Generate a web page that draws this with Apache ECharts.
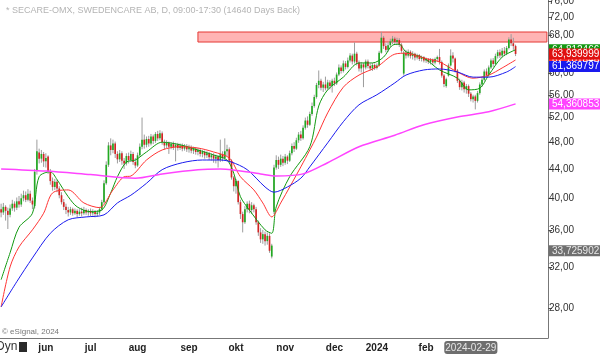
<!DOCTYPE html>
<html>
<head>
<meta charset="utf-8">
<title>SECARE-OMX</title>
<script src="https://cdn.jsdelivr.net/npm/echarts@6/dist/echarts.min.js"></script>
<style>
  html, body { margin: 0; padding: 0; background: #fff; }
  #chart { width: 600px; height: 354px; }
</style>
</head>
<body>
<div id="chart"></div>
<script>
// daily candles 2023-05-03 .. 2024-03-28, each [open, close, low, high]
const candles = [
  [38.6, 38.2, 37.6, 39.3], [38.2, 38.9, 37.9, 39.4], [38.9, 38.4, 37.2, 39.1], [38.4, 37.9, 36.2, 38.8],
  [37.9, 38.7, 37.6, 39.2], [38.7, 39.3, 38.4, 39.8], [39.3, 38.8, 38.3, 39.6], [38.8, 39.6, 38.5, 40.1],
  [39.6, 39.2, 38.8, 40.3], [39.2, 40.0, 38.9, 40.6], [40.0, 40.4, 39.6, 41.0], [40.4, 39.8, 39.5, 40.9],
  [39.8, 40.6, 39.6, 41.2], [40.6, 39.7, 39.4, 41.0], [39.7, 39.2, 38.6, 40.1], [39.0, 43.6, 38.7, 44.0],
  [43.8, 46.6, 43.2, 48.4], [46.4, 45.5, 44.8, 47.0], [45.5, 46.2, 44.9, 46.8], [46.2, 45.1, 44.3, 46.5],
  [45.1, 45.6, 44.2, 46.3], [45.8, 43.6, 43.3, 46.0], [43.6, 42.3, 41.8, 44.0], [42.3, 41.5, 41.0, 42.8],
  [41.5, 42.2, 41.1, 42.6], [42.2, 41.3, 40.8, 42.5], [41.3, 40.4, 40.0, 41.6], [40.4, 39.5, 39.2, 40.8],
  [39.5, 38.9, 38.5, 39.9], [38.9, 38.5, 38.0, 39.3], [38.5, 38.2, 37.7, 38.9], [38.2, 38.6, 37.9, 38.9],
  [38.6, 38.1, 37.8, 38.8], [38.1, 38.4, 37.9, 38.7], [38.4, 38.0, 37.6, 38.6], [38.0, 38.3, 37.8, 38.6],
  [38.3, 38.1, 37.7, 38.8], [38.1, 38.5, 37.9, 38.9], [38.5, 38.2, 37.9, 38.7], [38.2, 38.4, 37.8, 38.6],
  [38.4, 38.1, 37.7, 38.7], [38.1, 38.3, 37.8, 38.6], [38.3, 38.0, 37.6, 38.5], [38.0, 38.2, 37.7, 38.5],
  [38.2, 38.6, 37.9, 38.9], [38.6, 39.5, 38.4, 39.8], [39.5, 42.0, 39.3, 42.4], [42.0, 44.6, 41.8, 45.1],
  [44.6, 47.5, 44.3, 48.0], [47.5, 46.8, 46.0, 48.6], [46.8, 47.8, 46.3, 48.4], [47.8, 46.2, 45.6, 48.1],
  [46.2, 45.4, 44.8, 46.6], [45.4, 46.3, 45.0, 46.8], [46.3, 45.2, 44.6, 46.6], [45.2, 44.8, 44.0, 45.6],
  [44.8, 45.9, 44.5, 46.3], [45.9, 45.3, 44.8, 46.4], [45.3, 46.2, 45.0, 46.7], [46.2, 45.0, 44.6, 46.5],
  [45.0, 44.5, 44.1, 45.6], [44.5, 46.0, 44.3, 46.4], [46.0, 47.3, 45.8, 47.8], [47.3, 48.4, 46.9, 52.0],
  [48.4, 47.6, 47.0, 49.2], [47.6, 48.5, 47.2, 48.9], [48.5, 47.8, 47.3, 49.0], [47.8, 48.9, 47.5, 49.3],
  [48.9, 48.2, 47.7, 49.2], [48.2, 49.3, 47.9, 49.6], [49.3, 48.6, 48.2, 49.8], [48.6, 49.4, 48.3, 49.9],
  [49.4, 48.0, 47.6, 49.7], [48.0, 47.5, 46.9, 48.4], [47.5, 47.9, 47.1, 48.3], [47.9, 47.3, 46.2, 48.1],
  [47.3, 47.7, 46.9, 48.0], [47.7, 47.2, 46.8, 48.1], [47.2, 47.6, 45.1, 47.9], [47.6, 47.1, 46.7, 47.9],
  [47.1, 47.5, 46.8, 47.8], [47.5, 47.0, 46.6, 47.8], [47.0, 47.4, 46.7, 47.7], [47.4, 46.9, 46.5, 47.7],
  [46.9, 47.2, 46.4, 47.6], [47.2, 46.7, 46.3, 47.5], [46.7, 47.0, 46.2, 47.3], [47.0, 46.5, 46.1, 47.2],
  [46.5, 46.8, 46.0, 47.1], [46.8, 46.2, 45.8, 47.0], [46.2, 46.5, 45.7, 46.8], [46.5, 46.0, 45.5, 46.7],
  [46.0, 46.3, 45.6, 46.6], [46.3, 45.7, 45.3, 46.5], [45.7, 46.0, 45.2, 46.3], [46.0, 45.5, 44.9, 46.3],
  [45.5, 45.8, 44.8, 46.1], [45.8, 45.3, 44.2, 46.0], [45.3, 46.2, 45.0, 48.4], [46.2, 45.6, 45.1, 46.6],
  [45.6, 46.6, 45.3, 48.6], [46.6, 46.9, 45.9, 47.6], [46.9, 45.2, 44.8, 47.2], [45.2, 42.8, 42.5, 45.4],
  [42.8, 41.6, 40.9, 43.0], [41.6, 42.3, 40.6, 42.6], [42.3, 39.5, 39.2, 42.4], [39.5, 38.0, 37.4, 39.8],
  [38.0, 37.0, 35.8, 38.3], [37.0, 38.6, 36.8, 39.0], [38.6, 39.3, 38.2, 39.6], [39.3, 38.5, 38.1, 39.7],
  [38.5, 39.1, 38.0, 39.5], [39.1, 38.6, 38.2, 39.3], [38.6, 37.0, 36.7, 38.9], [37.0, 35.8, 35.4, 37.2],
  [35.8, 35.0, 34.6, 36.3], [35.0, 35.6, 34.5, 36.1], [35.6, 34.8, 34.3, 35.9], [34.8, 35.4, 34.4, 35.8],
  [35.4, 33.725902, 33.5, 35.7], [33.1, 34.3, 32.9, 34.5], [38.3, 44.2, 38.0, 44.6], [44.2, 45.3, 43.9, 46.0],
  [45.3, 44.6, 44.0, 45.8], [44.6, 45.5, 44.3, 46.1], [45.5, 44.9, 44.4, 45.9], [44.9, 45.8, 44.6, 46.2],
  [45.8, 45.2, 44.7, 46.0], [45.2, 46.3, 45.0, 46.7], [46.3, 47.4, 46.0, 47.8], [47.4, 47.0, 46.5, 48.0],
  [47.0, 48.3, 46.8, 48.7], [48.3, 49.2, 47.9, 49.6], [49.2, 48.6, 48.2, 49.8], [48.6, 50.3, 48.4, 50.7],
  [50.3, 51.5, 50.0, 52.0], [51.5, 50.8, 50.3, 52.2], [50.8, 52.6, 50.6, 53.0], [52.6, 54.0, 52.3, 54.6],
  [54.0, 55.6, 53.7, 56.0], [55.6, 57.8, 55.3, 58.2], [57.8, 58.6, 57.2, 60.6], [58.6, 57.3, 56.8, 59.0],
  [57.3, 57.9, 56.5, 58.4], [57.9, 57.2, 56.8, 59.4], [57.2, 58.3, 56.9, 58.8], [58.3, 57.6, 57.0, 58.7],
  [57.6, 58.6, 56.4, 59.0], [58.6, 58.1, 57.6, 59.2], [58.1, 59.8, 57.8, 60.2], [59.8, 61.2, 59.5, 61.8],
  [61.2, 60.5, 60.0, 61.6], [60.5, 62.0, 60.2, 62.6], [62.0, 61.3, 60.8, 62.5], [61.3, 62.6, 61.0, 63.2],
  [62.6, 63.6, 62.2, 64.1], [63.6, 62.4, 61.8, 64.0], [62.4, 64.0, 62.0, 66.4], [64.0, 62.2, 61.6, 64.4],
  [62.2, 61.0, 60.4, 62.6], [61.0, 61.8, 60.2, 62.3], [61.8, 61.2, 57.4, 62.1], [61.2, 62.4, 60.8, 62.8],
  [62.4, 61.5, 61.0, 62.8], [61.5, 61.0, 60.6, 62.0], [61.0, 61.7, 60.5, 62.1], [61.7, 61.1, 60.7, 62.0],
  [61.1, 61.6, 60.8, 62.0], [61.6, 64.2, 61.4, 64.6], [64.2, 67.4, 64.0, 68.7], [67.4, 65.6, 65.0, 67.8],
  [65.6, 64.8, 64.3, 66.2], [64.8, 65.8, 64.4, 66.4], [65.8, 66.6, 65.3, 67.2], [66.6, 67.2, 66.0, 67.8],
  [67.2, 66.5, 66.0, 67.6], [66.5, 66.9, 65.8, 67.4], [66.9, 65.9, 65.4, 67.3], [65.9, 64.6, 64.2, 66.2],
  [60.0, 64.2, 59.6, 64.6], [64.2, 63.6, 63.0, 64.8], [63.6, 64.4, 63.2, 64.9], [64.4, 63.5, 63.0, 64.7],
  [63.5, 64.0, 62.8, 64.5], [64.0, 63.2, 62.6, 64.2], [63.2, 63.7, 62.8, 64.0], [63.7, 62.9, 62.5, 63.9],
  [62.9, 63.3, 62.4, 63.6], [63.3, 62.6, 62.2, 63.5], [62.6, 62.9, 62.1, 63.2], [62.9, 62.3, 61.9, 63.1],
  [62.3, 62.8, 61.8, 63.1], [62.8, 62.2, 61.7, 63.0], [62.2, 62.9, 61.8, 63.2], [62.9, 63.3, 62.4, 63.6],
  [63.3, 62.3, 61.8, 65.0], [62.3, 59.6, 59.2, 62.6], [59.6, 58.0, 57.4, 59.9], [57.6, 58.9, 57.3, 59.2],
  [59.6, 61.6, 59.4, 62.0], [61.6, 63.6, 61.4, 64.9], [63.6, 63.0, 62.2, 64.3], [63.0, 60.6, 60.2, 63.2],
  [60.6, 58.6, 58.2, 60.9], [58.6, 57.4, 56.9, 59.0], [57.4, 58.3, 56.8, 58.8], [58.3, 57.0, 56.4, 58.6],
  [57.0, 57.6, 56.2, 58.0], [57.6, 56.2, 55.6, 57.9], [56.2, 55.2, 54.8, 56.5], [55.2, 55.7, 54.6, 56.0],
  [55.7, 54.9, 53.4, 56.0], [54.9, 56.3, 54.6, 56.7], [56.3, 57.9, 56.0, 58.3], [57.9, 58.8, 57.5, 59.2],
  [58.8, 60.4, 58.5, 60.8], [60.4, 59.7, 59.2, 61.0], [59.7, 61.2, 59.4, 61.6], [61.2, 62.6, 60.9, 63.0],
  [62.6, 61.9, 61.3, 63.1], [61.9, 63.5, 61.6, 64.0], [63.5, 64.3, 63.0, 64.8], [64.3, 63.6, 63.1, 64.9],
  [63.6, 64.6, 63.3, 65.2], [64.6, 64.0, 63.5, 65.4], [64.0, 65.2, 63.7, 65.6], [65.2, 67.0, 64.9, 67.5],
  [67.0, 66.2, 65.6, 68.2], [66.2, 65.6, 64.8, 67.4], [65.6, 63.939999, 63.5, 65.9]
];

// moving averages as [candle index, value]
const maGreen = [[0, 30.7], [4, 33.5], [8, 36.4], [14, 38.1], [17, 42.9], [22, 43.6], [25, 42.5], [30, 40.2],
  [34, 38.9], [40, 38.3], [45, 38.5], [49, 40.7], [52, 42.9], [56, 45.0], [60, 45.3], [65, 46.5], [72, 48.0],
  [80, 47.6], [88, 46.8], [95, 46.05], [101, 45.3], [104, 43.4], [107, 40.2], [111, 38.5], [118, 36.1],
  [121, 35.7], [123, 38.9], [129, 42.9], [138, 47.3], [142, 54.0], [146, 56.9], [153, 59.3], [160, 62.1],
  [166, 62.1], [171, 63.3], [175, 65.8], [178, 66.0], [181, 64.4], [189, 63.1], [196, 60.7], [204, 59.1],
  [209, 56.9], [214, 57.2], [218, 59.7], [224, 63.3], [230, 64.812466]];
const maRed = [[0, 28.1], [4, 32.0], [8, 34.15], [14, 36.1], [19, 38.1], [23, 40.7], [30, 41.1], [37, 39.4],
  [44, 38.8], [50, 41.1], [55, 42.9], [58, 43.0], [65, 45.3], [72, 46.8], [80, 47.3], [88, 47.1], [95, 46.5],
  [102, 45.6], [107, 42.9], [113, 41.1], [117, 39.4], [121, 37.65], [125, 39.4], [134, 44.3], [138, 46.8],
  [141, 48.8], [146, 52.8], [153, 57.4], [160, 59.7], [168, 61.3], [176, 63.9], [181, 64.1], [189, 63.1],
  [196, 62.3], [204, 60.3], [211, 59.1], [218, 59.7], [224, 61.1], [230, 62.701846]];
const maBlue = [[0, 28.1], [7, 30.5], [14, 32.95], [22, 35.7], [30, 37.3], [38, 37.65], [46, 37.9], [52, 39.4],
  [58, 40.4], [65, 42.0], [72, 43.9], [81, 44.9], [90, 45.3], [98, 45.3], [103, 45.0], [110, 43.9], [118, 41.5],
  [122, 40.8], [128, 41.5], [134, 42.7], [138, 44.3], [146, 47.9], [153, 51.3], [160, 54.2], [168, 56.0],
  [176, 58.2], [181, 59.7], [189, 60.7], [196, 60.9], [204, 60.3], [211, 59.3], [218, 59.3], [226, 60.3],
  [230, 61.369797]];
const maMagenta = [[0, 44.0], [20, 43.7], [40, 43.2], [60, 42.7], [72, 43.3], [88, 43.9], [98, 44.0],
  [103, 43.9], [116, 43.3], [123, 43.0], [135, 43.3], [146, 44.9], [160, 47.3], [176, 49.1], [189, 50.8],
  [204, 52.1], [218, 53.0], [230, 54.360853]];

const lowTag = 33.725902;
const zoneLow = 66.47, zoneHigh = 68.67, zoneStart = "2023-09-07";
const cursorDate = "2024-02-29";
const yTicks = [28, 32, 36, 40, 44, 48, 52, 56, 60, 68, 72, 76];
const monthNames = ["2024", "feb", "mar", "apr", "maj", "jun", "jul", "aug", "sep", "okt", "nov", "dec"];
const holidays = ["2023-05-18", "2023-06-06", "2023-06-23", "2023-12-25", "2023-12-26", "2024-01-01", "2024-03-29", "2024-04-01"];
const blankSlots = 14;

// trading days on the category axis
const dates = [];
const day = new Date(Date.UTC(2023, 4, 3));
while (dates.length < candles.length + blankSlots) {
  const s = day.toISOString().slice(0, 10);
  const wd = day.getUTCDay();
  if (wd !== 0 && wd !== 6 && holidays.indexOf(s) < 0) dates.push(s);
  day.setUTCDate(day.getUTCDate() + 1);
}
const monthStart = i => i > 0 && i < candles.length && dates[i].slice(5, 7) !== dates[i - 1].slice(5, 7);

const fmt = (v, d) => v.toFixed(d).replace(".", ",");

function renderCandle(params, api) {
  const i = api.value(0);
  const o = api.coord([i, api.value(1)]);
  const c = api.coord([i, api.value(2)]);
  const l = api.coord([i, api.value(3)]);
  const h = api.coord([i, api.value(4)]);
  const band = api.coord([i + 1, api.value(1)])[0] - o[0];
  const w = Math.max(1, band * 0.75);
  const up = api.value(2) >= api.value(1);
  return {
    type: "group",
    children: [
      { type: "line", shape: { x1: o[0], y1: h[1], x2: o[0], y2: l[1] }, style: { stroke: "#9c9c9c", lineWidth: 1 } },
      {
        type: "rect",
        shape: { x: o[0] - w / 2, y: Math.min(o[1], c[1]), width: w, height: Math.max(1, Math.abs(o[1] - c[1])) },
        style: { fill: up ? "#22aa22" : "#d42424" }
      }
    ]
  };
}

// price tag on the right axis
function tag(value, bg, fg, z) {
  return {
    symbol: "none",
    silent: true,
    precision: 6,
    z: z,
    lineStyle: { color: "rgba(0,0,0,0)", width: 0 },
    label: {
      show: true, position: "end", distance: 1, formatter: p => fmt(p.value, 6),
      backgroundColor: bg, color: fg, fontSize: 10, padding: [1, 1, 0, 3]
    },
    data: [{ yAxis: value }]
  };
}

function maSeries(name, data, color, width, z) {
  return {
    name: name, type: "line", data: data, symbol: "none", smooth: 0.3, z: 3,
    lineStyle: { color: color, width: width },
    markLine: tag(data[data.length - 1][1], color, "#fff", z)
  };
}

const chart = echarts.init(document.getElementById("chart"));
chart.setOption({
  animation: false,
  textStyle: { fontFamily: "Liberation Sans, Arial, sans-serif" },
  title: {
    text: "* SECARE-OMX, SWEDENCARE AB, D, 09:00-17:30 (14640 Days Back)",
    left: 1, top: 1,
    textStyle: { fontSize: 9, fontWeight: "normal", color: "#b4b4b4" }
  },
  grid: { left: 0, right: 52, top: 0, bottom: 16, outerBoundsMode: "none" },
  xAxis: {
    type: "category",
    data: dates,
    boundaryGap: true,
    axisLine: { lineStyle: { color: "#777" } },
    axisTick: { interval: monthStart, alignWithLabel: true, length: 3, lineStyle: { color: "#777" } },
    axisLabel: {
      interval: monthStart, margin: 5, fontSize: 10, fontWeight: "bold", color: "#222",
      formatter: v => monthNames[+v.slice(5, 7) - 1]
    },
    splitLine: { show: false },
    axisPointer: {
      show: true, status: "show", value: dates.indexOf(cursorDate), triggerTooltip: false,
      lineStyle: { color: "transparent", width: 0 },
      label: { show: true, backgroundColor: "#6e6e6e", color: "#e6e6e6", fontSize: 10, padding: [2, 1, 1, 1], margin: 3 },
      handle: { show: false }
    }
  },
  yAxis: {
    type: "log",
    logBase: 10,
    position: "right",
    min: 25.4,
    max: 76.2,
    axisLine: { show: true, lineStyle: { color: "#777" } },
    axisTick: { show: true, customValues: yTicks, length: 4, lineStyle: { color: "#555" } },
    axisLabel: { customValues: yTicks, margin: 1, fontSize: 10, color: "#333", formatter: v => fmt(v, 2) },
    splitLine: { show: false }
  },
  series: [
    {
      name: "SECARE", type: "custom", z: 2,
      renderItem: renderCandle,
      encode: { x: 0, y: [1, 2, 3, 4] },
      data: candles.map((c, i) => [i, c[0], c[1], c[2], c[3]]),
      markArea: {
        silent: true,
        itemStyle: { color: "rgba(255,140,140,0.65)", borderColor: "#e53935", borderWidth: 1 },
        data: [[{ xAxis: zoneStart, yAxis: zoneHigh }, { xAxis: dates[dates.length - 1], yAxis: zoneLow }]]
      },
      markLine: {
        symbol: "none", silent: true, z: 6, precision: 6, lineStyle: { color: "rgba(0,0,0,0)", width: 0 },
        label: { show: true, position: "end", distance: 1, formatter: p => fmt(p.value, 6), fontSize: 10, padding: [1, 1, 0, 3] },
        data: [
          { yAxis: candles[candles.length - 1][1], label: { backgroundColor: "#e01010", color: "#fff" } },
          { yAxis: lowTag, label: { backgroundColor: "#6f6f6f", color: "#e8e8e8" } }
        ]
      }
    },
    maSeries("MA fast", maGreen, "#119911", 1, 5),
    maSeries("MA mid", maRed, "#ff3333", 1, 5),
    maSeries("MA slow", maBlue, "#1a1aee", 1, 7),
    maSeries("MA long", maMagenta, "#ff44ff", 1.5, 7)
  ],
  graphic: [
    { type: "text", left: 2, top: 328, style: { text: "© eSignal, 2024", fontSize: 8, fill: "#777", fontFamily: "Liberation Sans" } },
    { type: "text", left: -4, top: 341, style: { text: "Dyn", fontSize: 12, fill: "#333", fontFamily: "Liberation Sans" } },
    { type: "rect", left: 19, top: 342, shape: { width: 8, height: 10 }, style: { fill: "#2a2a2a" } }
  ]
});
</script>
</body>
</html>
